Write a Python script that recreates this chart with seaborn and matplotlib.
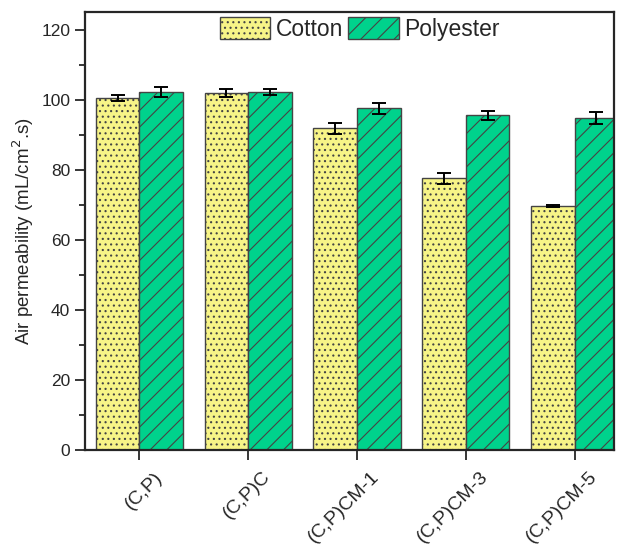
import matplotlib
matplotlib.use("Agg")
import matplotlib.pyplot as plt
import matplotlib.transforms as mtransforms
import seaborn as sns
import pandas as pd
from matplotlib.ticker import MultipleLocator
from matplotlib.patches import Patch

categories = ["(C,P)", "(C,P)C", "(C,P)CM-1", "(C,P)CM-3", "(C,P)CM-5"]
cotton = [100.5, 101.8, 91.8, 77.5, 69.5]
cotton_err = [0.8, 1.2, 1.5, 1.5, 0.3]
polyester = [102.2, 102.2, 97.5, 95.5, 94.8]
polyester_err = [1.4, 0.9, 1.5, 1.3, 1.7]
series = ["Cotton", "Polyester"]

sns.set_style("ticks")
plt.rcParams["font.family"] = ["Liberation Sans", "DejaVu Sans"]
plt.rcParams["hatch.linewidth"] = 0.8

df = pd.DataFrame({
    "sample": categories * 2,
    "fabric": [series[0]] * len(categories) + [series[1]] * len(categories),
    "value": cotton + polyester,
    "err": cotton_err + polyester_err,
})

colors = {"Cotton": "#F7F487", "Polyester": "#00D28C"}
hatches = {"Cotton": "...", "Polyester": "//"}

fig = plt.figure(figsize=(6.2, 5.46), dpi=100)
ax = fig.add_axes([0.137, 0.176, 0.853, 0.802])

sns.barplot(data=df, x="sample", y="value", hue="fabric", palette=colors,
            errorbar=None, width=0.8, edgecolor="#444444", linewidth=1.0,
            saturation=1, ax=ax, legend=False)

bars = [p for p in ax.patches if p.get_height() > 0]
for i, name in enumerate(series):
    sub = df[df.fabric == name]
    group = bars[i * len(categories):(i + 1) * len(categories)]
    xs = [p.get_x() + p.get_width() / 2 for p in group]
    for p in group:
        p.set_hatch(hatches[name])
    ax.errorbar(xs, sub["value"], yerr=sub["err"], fmt="none", ecolor="black",
                elinewidth=1.4, capsize=5, capthick=1.4, zorder=5)

ax.set_ylim(0, 125)
ax.set_xlim(-0.5, 4.36)
ax.yaxis.set_major_locator(MultipleLocator(20))
ax.yaxis.set_minor_locator(MultipleLocator(10))
ax.tick_params(axis="y", which="major", length=7, width=1.3, labelsize=12.5)
ax.tick_params(axis="y", which="minor", length=4, width=1.3)
ax.tick_params(axis="x", which="major", length=7, width=1.3, labelsize=14)
offset = mtransforms.ScaledTranslation(0.14, -0.04, fig.dpi_scale_trans)
for lbl in ax.get_xticklabels():
    lbl.set_rotation(45)
    lbl.set_ha("right")
    lbl.set_rotation_mode("anchor")
    lbl.set_transform(lbl.get_transform() + offset)
ax.set_xlabel("")
ax.set_ylabel(r"Air permeability (mL/cm$^2$.s)", fontsize=13.5)
for s in ax.spines.values():
    s.set_visible(True)
    s.set_linewidth(1.6)

handles = [Patch(facecolor=colors[n], edgecolor="#444444", hatch=hatches[n], label=n)
           for n in series]
ax.legend(handles=handles, loc="upper center", ncol=2, frameon=False,
          fontsize=16.5, handlelength=2.2, handleheight=1.05, columnspacing=0.2,
          handletextpad=0.25, bbox_to_anchor=(0.52, 1.035))

fig.savefig("out.png", dpi=100)
